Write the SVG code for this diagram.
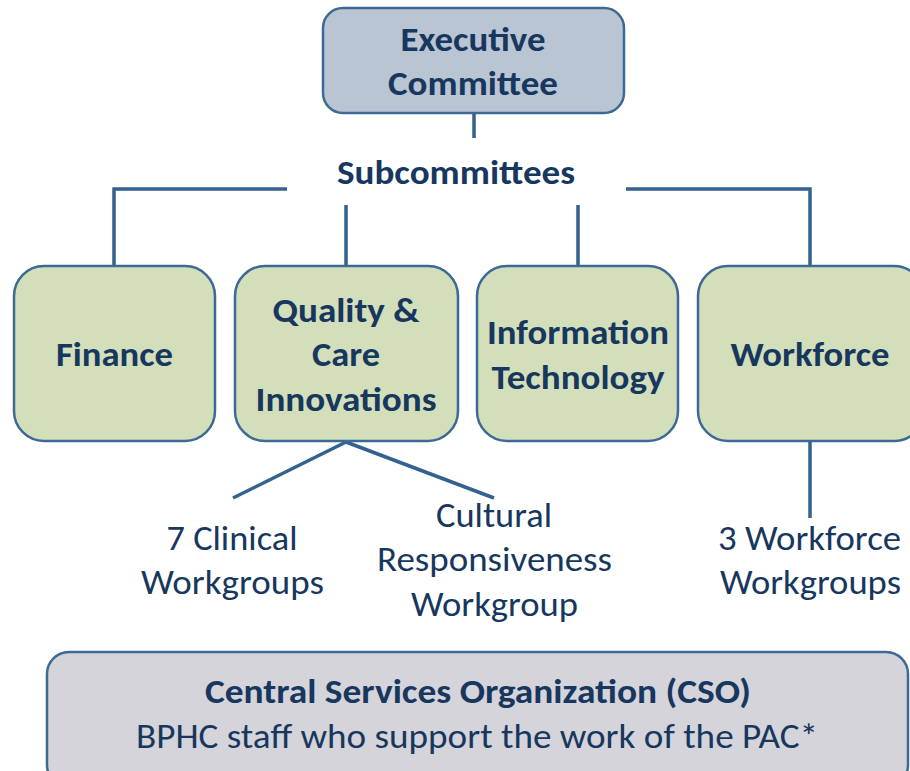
<svg xmlns="http://www.w3.org/2000/svg" width="910" height="771" viewBox="0 0 910 771">
  <style>
    text { font-family: Carlito, Calibri, "Liberation Sans", sans-serif; fill: #17375e; text-anchor: middle; }
    .b { font-weight: bold; font-size: 34px; }
    .r { font-size: 34px; }
    .box { stroke: #3d6a95; stroke-width: 2.5; }
    .green { fill: #d3dfba; }
    .conn { stroke: #33628f; stroke-width: 3.5; fill: none; }
  </style>
  <rect width="910" height="771" fill="#ffffff"/>

  <g id="connectors">
    <line class="conn" x1="474" y1="113" x2="474" y2="138"/>
    <polyline class="conn" points="287,189 114,189 114,266"/>
    <polyline class="conn" points="626,189 810,189 810,266"/>
    <line class="conn" x1="346" y1="205" x2="346" y2="266"/>
    <line class="conn" x1="578" y1="205" x2="578" y2="266"/>
    <line class="conn" x1="346" y1="442" x2="233" y2="498"/>
    <line class="conn" x1="346" y1="442" x2="494" y2="498"/>
    <line class="conn" x1="810" y1="441" x2="810" y2="518"/>
  </g>

  <g id="executive">
    <rect class="box" x="323" y="8" width="301" height="105" rx="20" fill="#b9c5d2"/>
    <text class="b" x="473" y="51" textLength="145" lengthAdjust="spacingAndGlyphs">Executive</text>
    <text class="b" x="473" y="95" textLength="170" lengthAdjust="spacingAndGlyphs">Committee</text>
  </g>

  <g id="subcommittees">
    <text class="b" x="456" y="184" textLength="238" lengthAdjust="spacingAndGlyphs">Subcommittees</text>
  </g>

  <g id="finance">
    <rect class="box green" x="14" y="266" width="201" height="175" rx="30"/>
    <text class="b" x="114.5" y="366" textLength="117" lengthAdjust="spacingAndGlyphs">Finance</text>
  </g>

  <g id="quality">
    <rect class="box green" x="235" y="266" width="223" height="175" rx="30"/>
    <text class="b" x="346" y="322" textLength="147" lengthAdjust="spacingAndGlyphs">Quality &amp;</text>
    <text class="b" x="346" y="366" textLength="68" lengthAdjust="spacingAndGlyphs">Care</text>
    <text class="b" x="346" y="411" textLength="181" lengthAdjust="spacingAndGlyphs">Innovations</text>
  </g>

  <g id="it">
    <rect class="box green" x="477" y="266" width="201" height="175" rx="30"/>
    <text class="b" x="578" y="344" textLength="182" lengthAdjust="spacingAndGlyphs">Information</text>
    <text class="b" x="578" y="389" textLength="173" lengthAdjust="spacingAndGlyphs">Technology</text>
  </g>

  <g id="workforce">
    <rect class="box green" x="698" y="266" width="226" height="175" rx="30"/>
    <text class="b" x="810" y="366" textLength="159" lengthAdjust="spacingAndGlyphs">Workforce</text>
  </g>

  <g id="clinical">
    <text class="r" x="232" y="550" textLength="131" lengthAdjust="spacingAndGlyphs">7 Clinical</text>
    <text class="r" x="232.5" y="594" textLength="183" lengthAdjust="spacingAndGlyphs">Workgroups</text>
  </g>

  <g id="cultural">
    <text class="r" x="494" y="527" textLength="116" lengthAdjust="spacingAndGlyphs">Cultural</text>
    <text class="r" x="494.5" y="571" textLength="235" lengthAdjust="spacingAndGlyphs">Responsiveness</text>
    <text class="r" x="494.5" y="616" textLength="167" lengthAdjust="spacingAndGlyphs">Workgroup</text>
  </g>

  <g id="workforce-groups">
    <text class="r" x="809.5" y="550" textLength="183" lengthAdjust="spacingAndGlyphs">3 Workforce</text>
    <text class="r" x="810.5" y="594" textLength="181" lengthAdjust="spacingAndGlyphs">Workgroups</text>
  </g>

  <g id="cso">
    <rect class="box" x="47" y="652" width="861" height="135" rx="22" fill="#d4d4da"/>
    <text class="b" x="478" y="703" textLength="546" lengthAdjust="spacingAndGlyphs">Central Services Organization (CSO)</text>
    <text class="r" x="477" y="748" textLength="682" lengthAdjust="spacingAndGlyphs">BPHC staff who support the work of the PAC*</text>
  </g>
</svg>
